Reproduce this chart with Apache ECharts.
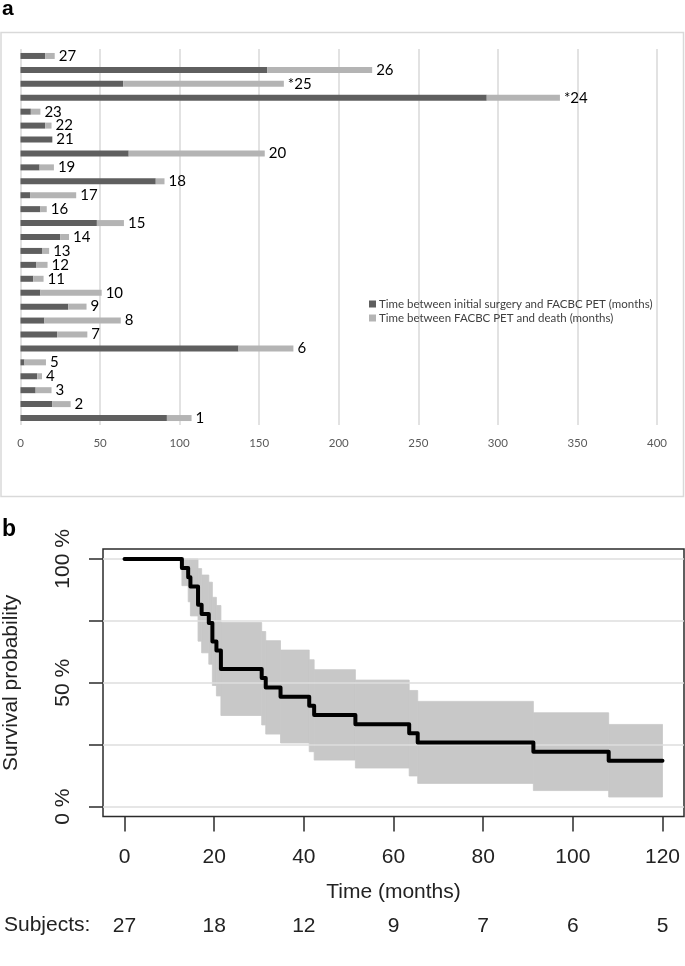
<!DOCTYPE html>
<html>
<head>
<meta charset="utf-8">
<script src="https://cdn.jsdelivr.net/npm/echarts@6/dist/echarts.min.js"></script>
<style>
html, body { margin: 0; padding: 0; background: #fff; }
#chart { width: 685px; height: 966px; }
</style>
</head>
<body>
<div id="chart"></div>
<script>
// ---- panel a : one bar per patient, listed bottom (1) to top (27)
var patientLabels = ['1', '2', '3', '4', '5', '6', '7', '8', '9', '10', '11', '12', '13', '14',
  '15', '16', '17', '18', '19', '20', '21', '22', '23', '*24', '*25', '26', '27'];
var monthsToPet = [92, 20, 9.5, 10.5, 2.5, 137, 23, 15, 30, 12.5, 8, 10, 13.5, 25,
  48, 12.5, 6, 85, 12, 68, 20, 15.5, 6.5, 293, 64.5, 155, 15.5];
var monthsPetToDeath = [15.5, 11.5, 10, 3, 13.5, 34.5, 19, 48, 11.5, 38.5, 6.5, 7, 4.5, 5.5,
  17, 4, 29, 5.5, 9, 85.5, 0, 4, 6, 46, 101, 66, 6];
var nameToPet = 'Time between initial surgery and FACBC PET (months)';
var namePetToDeath = 'Time between FACBC PET and death (months)';

// ---- panel b : Kaplan-Meier estimate with 95% band (value after each event time)
var kmTime = [0, 12.8, 14.2, 14.7, 16.4, 17.2, 18.8, 19.6, 20.5, 21.5, 30.6,
  31.5, 34.8, 41.2, 42.3, 51.5, 63.5, 65.4, 91.2, 108];
var kmSurv = [100, 96.3, 92.6, 88.9, 81.5, 77.8, 74.1, 66.7, 63.0, 55.6, 51.9,
  48.1, 44.4, 40.7, 37.0, 33.3, 29.6, 25.9, 22.2, 18.5];
var kmLower = [100, 89.2, 82.7, 77.0, 66.8, 62.1, 57.5, 48.9, 44.7, 36.8, 33.0,
  29.3, 25.7, 22.2, 18.8, 15.6, 12.4, 9.4, 6.5, 3.9];
var kmUpper = [100, 100, 100, 100, 96.1, 93.5, 90.6, 84.5, 81.2, 74.3, 70.7,
  67.0, 63.2, 59.3, 55.3, 51.1, 46.9, 42.5, 37.9, 33.2];
var kmEnd = 120;
var timeTicks = [0, 20, 40, 60, 80, 100, 120];
var subjectsAtRisk = [27, 18, 12, 9, 7, 6, 5];
var survTicks = [0, 25, 50, 75, 100];
var survTickLabels = [0, 50, 100];

var bandData = kmTime.map(function (t, i) {
  var tNext = i + 1 < kmTime.length ? kmTime[i + 1] : kmEnd;
  return [t, tNext, kmLower[i], kmUpper[i]];
});
var curveData = kmTime.map(function (t, i) { return [t, kmSurv[i]]; });
curveData.push([kmEnd, kmSurv[kmSurv.length - 1]]);

var rFont = 'Liberation Sans, Arial, sans-serif';
var xlFont = 'Lato, Open Sans, sans-serif';

var chart = echarts.init(document.getElementById('chart'));
var option = {
  animation: false,
  backgroundColor: '#fff',
  graphic: [
    { type: 'rect', shape: { x: 1, y: 32.5, width: 682.5, height: 464 },
      style: { fill: 'none', stroke: '#d9d9d9', lineWidth: 1.5 } },
    { type: 'text', left: 2, top: -1,
      style: { text: 'a', font: 'bold 21px ' + rFont, fill: '#000' } },
    { type: 'text', left: 2, top: 518,
      style: { text: 'b', font: 'bold 23px ' + rFont, fill: '#000' } },
    { type: 'text', left: 4, top: 915,
      style: { text: 'Subjects:', font: '21px ' + rFont, fill: '#222' } }
  ],
  legend: {
    data: [nameToPet, namePetToDeath],
    orient: 'vertical',
    left: 364,
    top: 293,
    icon: 'rect',
    itemWidth: 7,
    itemHeight: 7,
    itemGap: 2,
    textStyle: { color: '#404040', fontSize: 11.5, fontFamily: xlFont, padding: [0, 0, 0, -2] }
  },
  grid: [
    { left: 20.5, width: 636.5, top: 49, height: 376, outerBoundsMode: 'none' },
    { left: 103, right: 1, top: 549, bottom: 149.4, show: true, outerBoundsMode: 'none',
      borderColor: '#2b2b2b', borderWidth: 1.5, backgroundColor: 'transparent' }
  ],
  xAxis: [
    {
      gridIndex: 0, type: 'value', min: 0, max: 400, interval: 50,
      axisLine: { show: false }, axisTick: { show: false },
      axisLabel: { color: '#595959', fontSize: 11.5, fontFamily: xlFont, margin: 12 },
      splitLine: { lineStyle: { color: '#d9d9d9', width: 1.5 } }
    },
    {
      gridIndex: 1, type: 'value', min: -4.8, max: 124.8,
      axisLine: { show: false, onZero: false },
      axisTick: { show: true, customValues: timeTicks, length: 15,
        lineStyle: { color: '#2b2b2b', width: 1.5 } },
      axisLabel: { customValues: timeTicks, color: '#222', fontSize: 21,
        fontFamily: rFont, margin: 30 },
      splitLine: { show: false },
      name: 'Time (months)', nameLocation: 'middle', nameGap: 65,
      nameTextStyle: { color: '#222', fontSize: 21, fontFamily: rFont }
    },
    {
      gridIndex: 1, type: 'value', min: -4.8, max: 124.8, position: 'bottom',
      axisLine: { show: false, onZero: false }, axisTick: { show: false },
      axisLabel: { customValues: timeTicks, color: '#222', fontSize: 21,
        fontFamily: rFont, margin: 99,
        formatter: function (v) {
          var i = timeTicks.indexOf(v);
          return i < 0 ? '' : String(subjectsAtRisk[i]);
        } },
      splitLine: { show: false }
    }
  ],
  yAxis: [
    {
      gridIndex: 0, type: 'category', data: patientLabels,
      axisLine: { show: false }, axisTick: { show: false },
      axisLabel: { show: false }, splitLine: { show: false }
    },
    {
      gridIndex: 1, type: 'value', min: -4, max: 104,
      axisLine: { show: false, onZero: false },
      axisTick: { show: true, customValues: survTicks, length: 14,
        lineStyle: { color: '#2b2b2b', width: 1.5 } },
      axisLabel: { customValues: survTickLabels, rotate: 90, color: '#222',
        fontSize: 21, fontFamily: rFont, margin: 29,
        formatter: function (v) { return v + ' %'; } },
      splitLine: { show: false },
      name: 'Survival probability', nameLocation: 'middle', nameRotate: 90, nameGap: 81,
      nameTextStyle: { color: '#222', fontSize: 21, fontFamily: rFont }
    }
  ],
  series: [
    {
      name: nameToPet, type: 'bar', stack: 'time', xAxisIndex: 0, yAxisIndex: 0,
      barWidth: 6, itemStyle: { color: '#5f5f5f' }, data: monthsToPet
    },
    {
      name: namePetToDeath, type: 'bar', stack: 'time', xAxisIndex: 0, yAxisIndex: 0,
      barWidth: 6, itemStyle: { color: '#b4b4b4' }, data: monthsPetToDeath,
      label: {
        show: true, position: 'right', distance: 4, color: '#000',
        fontSize: 15, fontFamily: xlFont,
        formatter: function (p) { return patientLabels[p.dataIndex]; }
      }
    },
    {
      name: 'band', type: 'custom', xAxisIndex: 1, yAxisIndex: 1, z: 1,
      data: bandData,
      encode: { x: [0, 1], y: [2, 3] },
      renderItem: function (params, api) {
        var p1 = api.coord([api.value(0), api.value(3)]);
        var p2 = api.coord([api.value(1), api.value(2)]);
        return {
          type: 'rect',
          shape: { x: p1[0], y: p1[1], width: p2[0] - p1[0], height: p2[1] - p1[1] },
          style: { fill: '#c8c8c8', stroke: '#c8c8c8', lineWidth: 0.8 }
        };
      },
      markLine: {
        silent: true, z: 2, symbol: ['none', 'none'], label: { show: false },
        lineStyle: { color: '#dedede', width: 1.5, type: 'solid' },
        data: survTicks.map(function (v) { return { yAxis: v }; })
      }
    },
    {
      name: 'km', type: 'line', xAxisIndex: 1, yAxisIndex: 1, z: 10,
      step: 'end', symbol: 'none', data: curveData,
      lineStyle: { color: '#000', width: 4, cap: 'round', join: 'round' }
    }
  ]
};
chart.setOption(option);
</script>
</body>
</html>
